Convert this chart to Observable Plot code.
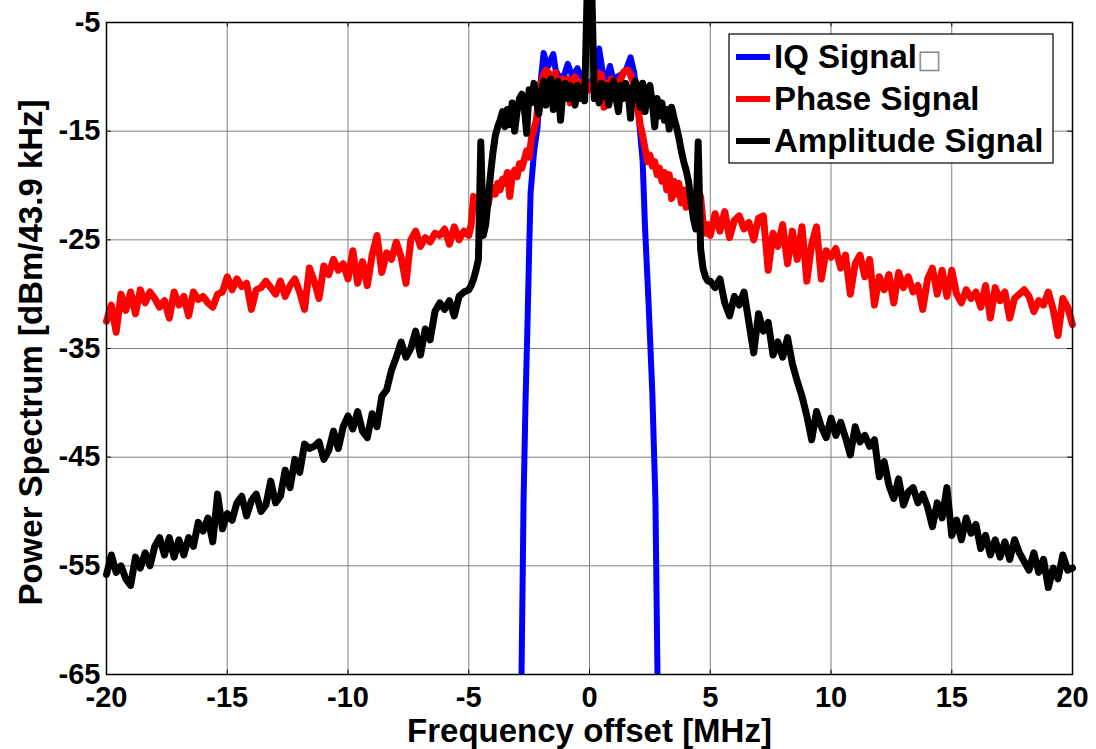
<!DOCTYPE html>
<html>
<head>
<meta charset="utf-8">
<script src="https://cdn.jsdelivr.net/npm/d3@7"></script>
<script src="https://cdn.jsdelivr.net/npm/@observablehq/plot@0.6"></script>
<style>
  html, body { margin: 0; padding: 0; background: #fff; }
  #chart { width: 1096px; height: 749px; }
</style>
</head>
<body>
<div id="chart"></div>
<script>
// ---- Tick values ----
const xTicks = [-20, -15, -10, -5, 0, 5, 10, 15, 20];
const yTicks = [-65, -55, -45, -35, -25, -15, -5];

// ---- Series names & colours ----
const seriesNames = ["IQ Signal", "Phase Signal", "Amplitude Signal"];
const seriesColors = ["#0000ff", "#ff0000", "#000000"];

// ---- Phase Signal (dBm) ----
// left part: -20 .. -5 MHz, step 0.2
const phaseLeft = [
  -32.5, -31.0, -33.5, -30.0, -31.5, -29.8, -31.8, -29.6, -30.8, -29.8,
  -30.4, -31.2, -30.6, -32.2, -29.8, -31.0, -30.2, -32.0, -29.8, -30.5,
  -30.2, -30.8, -31.2, -30.0, -29.8, -28.4, -29.6, -28.6, -29.3, -29.0,
  -31.4, -29.6, -29.4, -28.8, -29.4, -30.0, -28.8, -30.2, -29.2, -28.6,
  -29.8, -31.4, -27.6, -28.8, -30.4, -27.4, -28.2, -26.8, -27.8, -27.2,
  -28.6, -26.0, -29.0, -27.0, -29.2, -26.4, -24.6, -28.0, -26.2, -26.8,
  -25.2, -26.6, -29.0, -25.0, -24.2, -25.6, -24.8, -25.2, -24.4, -24.6,
  -24.0, -25.4, -23.8, -25.0, -24.2, -24.6
];
// centre part: -4.9 .. 4.9 MHz, step 0.1
const phaseCenter = [
  -23.6, -21.0, -21.6, -22.2, -21.4, -22.0, -21.2, -21.8, -20.6, -20.2,
  -20.8, -19.8, -20.4, -19.4, -19.8, -18.8, -21.0, -19.0, -18.6, -19.2,
  -18.0, -18.4, -17.6, -16.8, -17.4, -15.6, -14.8, -14.0, -11.8, -10.6,
  -9.8, -9.4, -9.6, -11.4, -10.0, -9.6, -12.8, -10.6, -10.2, -11.6,
  -10.2, -12.4, -10.6, -10.0, -11.8, -11.2, -10.4, -11.0, -10.8, -11.2,
  -10.6, -10.2, -9.6, -11.0, -9.8, -12.8, -10.6, -11.4, -10.2, -11.6,
  -10.4, -10.8, -10.2, -9.6, -9.4, -9.4, -9.8, -10.4, -11.6, -12.8,
  -14.4, -15.4, -16.6, -17.8, -17.2, -18.2, -17.8, -19.0, -18.4, -19.6,
  -18.8, -20.4, -19.0, -21.2, -19.6, -20.8, -19.8, -21.6, -20.4, -22.0,
  -20.8, -21.4, -20.8, -21.6, -20.6, -21.0, -23.4, -24.4, -23.6
];
// right part: 5 .. 20 MHz, step 0.2
const phaseRight = [
  -24.6, -22.6, -24.2, -22.4, -24.8, -23.2, -22.8, -24.0, -23.4, -25.0,
  -23.0, -22.8, -27.8, -24.4, -25.6, -23.6, -27.2, -24.2, -26.8, -23.8,
  -28.8, -25.4, -23.8, -28.6, -26.0, -26.6, -25.8, -27.6, -26.4, -30.0,
  -27.2, -26.4, -28.4, -26.8, -31.0, -28.4, -29.6, -28.2, -30.8, -28.0,
  -29.4, -28.4, -29.8, -29.2, -31.4, -28.6, -27.6, -30.0, -27.8, -30.2,
  -27.8, -30.0, -30.8, -29.6, -30.4, -29.8, -31.2, -29.2, -32.2, -29.4,
  -30.6, -29.8, -32.2, -30.4, -30.0, -29.6, -30.2, -31.6, -30.6, -31.0,
  -29.8, -31.4, -33.8, -30.4, -31.2, -32.8
];

// ---- Amplitude Signal (dBm) ----
const ampLeft = [
  -55.8, -54.0, -55.6, -55.0, -56.2, -56.8, -54.2, -55.2, -53.8, -55.0,
  -53.2, -52.4, -54.0, -52.4, -54.2, -52.6, -54.0, -52.4, -53.2, -51.0,
  -51.8, -50.6, -52.8, -48.4, -51.6, -50.2, -50.8, -49.2, -48.6, -50.4,
  -49.0, -48.4, -50.0, -49.4, -47.2, -49.2, -48.6, -46.2, -47.8, -45.2,
  -46.4, -43.8, -44.2, -44.0, -43.6, -45.2, -44.4, -42.6, -44.2, -42.2,
  -41.2, -42.4, -40.8, -42.6, -43.2, -41.0, -42.2, -39.4, -38.8, -37.0,
  -35.8, -34.4, -35.8, -35.0, -33.4, -35.6, -33.2, -34.2, -31.6, -30.8,
  -31.4, -30.6, -32.0, -30.2, -29.8, -29.6
];
const ampCenter = [
  -29.2, -28.6, -27.8, -26.8, -16.0, -24.6, -23.6, -21.4, -19.0, -17.0,
  -15.4, -14.6, -14.0, -13.2, -14.6, -13.0, -14.4, -12.4, -15.0, -13.2,
  -12.0, -11.6, -12.8, -15.2, -11.2, -12.4, -10.6, -12.2, -13.4, -11.6,
  -10.4, -12.6, -11.0, -10.2, -13.0, -11.4, -10.4, -14.0, -11.4, -10.6,
  -12.0, -10.8, -11.6, -12.6, -10.8, -12.0, -11.0, -12.2, -2.5, -2.5,
  -2.5, -12.0, -11.0, -12.4, -10.6, -11.8, -10.8, -12.6, -11.0, -10.4,
  -12.0, -13.2, -10.8, -12.0, -10.6, -11.4, -13.8, -11.0, -10.4, -11.6,
  -12.8, -10.6, -13.2, -11.2, -10.8, -12.4, -14.6, -12.0, -13.6, -12.4,
  -14.0, -13.0, -14.8, -12.8, -13.8, -14.6, -15.6, -16.8, -17.8, -18.6,
  -19.6, -21.4, -23.0, -24.0, -16.0, -25.8, -27.6, -28.4, -28.8
];
const ampRight = [
  -28.8, -29.4, -28.6, -30.8, -32.0, -30.2, -31.0, -29.8, -32.6, -35.4,
  -31.8, -33.4, -32.6, -35.6, -34.4, -35.8, -34.0, -36.4, -38.0, -39.4,
  -41.2, -43.4, -40.8, -42.2, -43.2, -41.4, -43.0, -41.8, -43.2, -44.8,
  -42.2, -43.6, -43.0, -44.0, -43.4, -46.8, -45.4, -47.6, -48.8, -47.0,
  -49.4, -48.2, -47.8, -49.2, -48.4, -49.6, -51.4, -49.2, -50.6, -47.8,
  -52.2, -50.8, -52.6, -50.6, -52.0, -51.2, -53.4, -52.2, -54.0, -52.6,
  -54.2, -52.8, -54.4, -52.6, -53.8, -54.6, -55.4, -53.8, -55.6, -54.4,
  -57.0, -55.2, -56.2, -54.0, -55.4, -55.2
];

// ---- IQ Signal (dBm) ----
const iqFreq = [
  -2.82, -2.73, -2.65, -2.57, -2.5, -2.44, -2.3, -2.15, -2.05, -1.9,
  -1.8, -1.7, -1.6, -1.5, -1.4, -1.3, -1.1, -0.9, -0.7, -0.5,
  -0.3, -0.1, 0.1, 0.25, 0.4, 0.55, 0.7, 0.85, 1.0, 1.15,
  1.3, 1.5, 1.7, 1.85, 1.95, 2.05, 2.2, 2.3, 2.45, 2.6,
  2.73, 2.82
];
const iqPower = [
  -66, -49, -40, -33, -26, -20.7, -17, -14.6, -11, -7.8,
  -8.6, -9.0, -8.4, -7.9, -9.4, -9.8, -10.2, -8.8, -10.0, -9.2,
  -10.2, -10.6, -10.4, -9.8, -7.4, -9.6, -10.2, -9.0, -10.4, -10.0,
  -9.8, -9.4, -8.2, -9.6, -11.6, -14.0, -17.7, -23.9, -31, -39,
  -49, -66
];

// ---- frequency bins for the segmented series ----
const binsLeft = d3.range(76).map(i => +(-20 + i * 0.2).toFixed(2));
const binsCenter = d3.range(99).map(i => +(-4.9 + i * 0.1).toFixed(2));
const binsRight = d3.range(76).map(i => +(5 + i * 0.2).toFixed(2));

function joinSeries(left, center, right) {
  return [
    ...left.map((v, i) => ({f: binsLeft[i], p: v})),
    ...center.map((v, i) => ({f: binsCenter[i], p: v})),
    ...right.map((v, i) => ({f: binsRight[i], p: v}))
  ];
}
const phaseData = joinSeries(phaseLeft, phaseCenter, phaseRight);
const ampData = joinSeries(ampLeft, ampCenter, ampRight);
const iqData = iqFreq.map((f, i) => ({f, p: iqPower[i]}));

const FONT = "'Liberation Sans', Arial, Helvetica, sans-serif";

const chart = Plot.plot({
  width: 1096,
  height: 749,
  marginLeft: 106,
  marginRight: 24,
  marginTop: 22,
  marginBottom: 75,
  style: {fontFamily: FONT, fontWeight: "bold", fontSize: "29px", color: "#000", background: "#fff", overflow: "hidden"},
  x: {domain: [-20, 20]},
  y: {domain: [-65, -5]},
  marks: [
    Plot.gridX(xTicks, {stroke: "#808080", strokeOpacity: 1, strokeWidth: 1}),
    Plot.gridY(yTicks, {stroke: "#808080", strokeOpacity: 1, strokeWidth: 1}),
    Plot.line(iqData, {x: "f", y: "p", stroke: seriesColors[0], strokeWidth: 6, strokeLinejoin: "round", clip: true}),
    Plot.line(phaseData, {x: "f", y: "p", stroke: seriesColors[1], strokeWidth: 7, strokeLinejoin: "round"}),
    Plot.line(ampData, {x: "f", y: "p", stroke: seriesColors[2], strokeWidth: 7, strokeLinejoin: "round"}),
    Plot.frame({stroke: "#000", strokeWidth: 1.5}),
    // inward tick marks on all four sides
    Plot.ruleX(xTicks, {x: d => d, y1: -65, y2: -64.6, stroke: "#000", strokeWidth: 1}),
    Plot.ruleX(xTicks, {x: d => d, y1: -5, y2: -5.4, stroke: "#000", strokeWidth: 1}),
    Plot.ruleY(yTicks, {y: d => d, x1: -20, x2: -19.8, stroke: "#000", strokeWidth: 1}),
    Plot.ruleY(yTicks, {y: d => d, x1: 20, x2: 19.8, stroke: "#000", strokeWidth: 1}),
    Plot.axisX(xTicks, {tickFormat: d => String(d), tickSize: 0, tickPadding: 12, fontSize: 29, fontWeight: "bold", label: null}),
    Plot.axisY(yTicks, {tickFormat: d => String(d), tickSize: 0, tickPadding: 6, fontSize: 29, fontWeight: "bold", label: null}),
    Plot.text(["Frequency offset [MHz]"], {text: d => d, frameAnchor: "bottom", lineAnchor: "middle", textAnchor: "middle", dy: 57, fontSize: 33, fontWeight: "bold", fill: "#000"}),
    Plot.text(["Power Spectrum [dBm/43.9 kHz]"], {text: d => d, frameAnchor: "left", lineAnchor: "middle", textAnchor: "middle", rotate: -90, dx: -75, dy: 4, fontSize: 33, fontWeight: "bold", fill: "#000"})
  ]
});

document.getElementById("chart").appendChild(chart);

// ---- legend (inside the plot, top right) ----
const svg = d3.select(chart);
const lg = svg.append("g").attr("font-family", FONT).attr("font-weight", "bold")
  .attr("font-size", 33).attr("text-anchor", "start");
lg.append("rect").attr("x", 729).attr("y", 34).attr("width", 324).attr("height", 129)
  .attr("fill", "#fff").attr("stroke", "#000").attr("stroke-width", 1.2);
seriesNames.forEach((name, i) => {
  const yLine = 57 + 42 * i;
  lg.append("line").attr("x1", 736).attr("x2", 770).attr("y1", yLine).attr("y2", yLine)
    .attr("stroke", seriesColors[i]).attr("stroke-width", 6);
  const t = lg.append("text").attr("x", 774).attr("y", 68 + 42 * i).attr("fill", "#000")
    .attr("text-anchor", "start").text(name);
  if (i === 0) {
    t.append("tspan").attr("font-weight", "normal").attr("fill", "#888").attr("font-family", "DejaVu Sans").attr("font-size", 26).text("\u25A1");
  }
});
</script>
</body>
</html>
